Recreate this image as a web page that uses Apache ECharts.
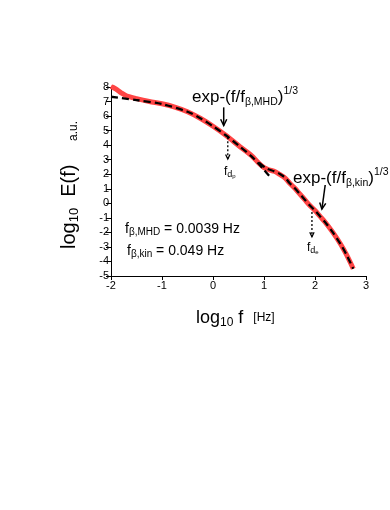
<!DOCTYPE html>
<html>
<head>
<meta charset="utf-8">
<script src="https://cdn.jsdelivr.net/npm/echarts@6/dist/echarts.min.js"></script>
<style>
html,body{margin:0;padding:0;background:#fff;}
#c{width:390px;height:510px;}
</style>
</head>
<body>
<div id="c"></div>
<script>
// ---- data (log10 f [Hz], log10 E(f)) ----
var dataX = [-2.0,-1.9,-1.8,-1.7,-1.5,-1.25,-1.0,-0.75,-0.5,-0.25,0.0,0.25,0.5,0.75,0.9,1.0,1.1,1.2,1.3,1.42,1.5,1.6,1.7,1.8,1.9,2.0,2.1,2.2,2.35,2.5,2.62,2.75];
var dataY = [8.05,7.85,7.6,7.4,7.2,7.0,6.85,6.62,6.3,5.85,5.3,4.68,3.98,3.3,2.75,2.45,2.3,2.2,2.0,1.72,1.4,1.05,0.65,0.25,-0.15,-0.5,-0.9,-1.3,-2.0,-2.8,-3.55,-4.5];
var mhdX = [-2.0,-1.5,-1.0,-0.5,-0.25,0.0,0.25,0.5,0.75,0.9,1.0,1.1];
var mhdY = [7.33,7.1,6.83,6.3,5.85,5.3,4.68,3.98,3.25,2.7,2.3,1.9];
var kinX = [0.9,1.05,1.2,1.32,1.42,1.5,1.6,1.7,1.8,1.9,2.0,2.1,2.2,2.35,2.5,2.62,2.75];
var kinY = [2.8,2.4,2.2,2.0,1.75,1.4,1.05,0.65,0.25,-0.15,-0.5,-0.9,-1.3,-2.0,-2.8,-3.55,-4.5];
var xTicks = [-2,-1,0,1,2,3];
var yTicks = [-5,-4,-3,-2,-1,0,1,2,3,4,5,6,7,8];

function pairs(xs, ys){ return xs.map(function(x,i){ return [x, ys[i]]; }); }

var FONT = '"Liberation Sans", Arial, Helvetica, sans-serif';
var chart = echarts.init(document.getElementById('c'), null, {renderer:'canvas'});

var option = {
  animation:false,
  backgroundColor:'#fff',
  grid:{left:111, right:24, top:87, bottom:234, containLabel:false},
  xAxis:{
    type:'value', min:xTicks[0], max:xTicks[xTicks.length-1], interval:1,
    axisLine:{show:true, onZero:false, lineStyle:{color:'#000', width:1}},
    axisTick:{show:true, length:4, lineStyle:{color:'#000'}},
    axisLabel:{color:'#000', fontSize:11, fontFamily:FONT, margin:4},
    splitLine:{show:false}
  },
  yAxis:{
    type:'value', min:yTicks[0], max:yTicks[yTicks.length-1], interval:1,
    axisLine:{show:true, onZero:false, lineStyle:{color:'#000', width:1}},
    axisTick:{show:true, length:5, lineStyle:{color:'#000'}},
    axisLabel:{color:'#000', fontSize:11, fontFamily:FONT, margin:2},
    splitLine:{show:false}
  },
  series:[
    {type:'line', data:pairs(dataX,dataY), showSymbol:false, smooth:0.3,
     lineStyle:{color:'#ff4545', width:5}, z:2},
    {type:'line', data:pairs(mhdX,mhdY), showSymbol:false, smooth:0.3,
     lineStyle:{color:'#000', width:2.3, type:[7,4]}, z:3},
    {type:'line', data:pairs(kinX,kinY), showSymbol:false, smooth:0.3,
     lineStyle:{color:'#000', width:2.3, type:[7,4]}, z:3}
  ]
};
chart.setOption(option);

// ---- annotations ----
var arrows = [
  {from:[0.21,6.6], to:[0.21,5.35], dotted:false},
  {from:[0.29,4.55], to:[0.29,3.05], dotted:true},
  {from:[2.2,1.26], to:[2.135,-0.4], dotted:false},
  {from:[1.94,-0.6], to:[1.94,-2.3], dotted:true}
];
var g = [];
arrows.forEach(function(a){
  var p0 = chart.convertToPixel({gridIndex:0}, a.from);
  var p1 = chart.convertToPixel({gridIndex:0}, a.to);
  var ang = Math.atan2(p1[1]-p0[1], p1[0]-p0[0]);
  var hl = a.dotted ? 5 : 7, hw = 0.45;
  var h1 = [p1[0]-hl*Math.cos(ang-hw), p1[1]-hl*Math.sin(ang-hw)];
  var h2 = [p1[0]-hl*Math.cos(ang+hw), p1[1]-hl*Math.sin(ang+hw)];
  g.push({type:'line', shape:{x1:p0[0],y1:p0[1],x2:p1[0],y2:p1[1]},
    style:{stroke:'#000', lineWidth:a.dotted?1.3:1.5, lineDash:a.dotted?[2,2]:null}, z:10});
  g.push({type:'polyline', shape:{points:[h1,p1,h2]},
    style:{stroke:'#000', lineWidth:a.dotted?1.3:1.5, fill:null}, z:10});
});

var rich = {
  m:{fontSize:17, fontFamily:FONT, color:'#000', lineHeight:22},
  s:{fontSize:10.5, fontFamily:FONT, color:'#000', lineHeight:10, verticalAlign:'bottom'},
  u:{fontSize:10.5, fontFamily:FONT, color:'#000', lineHeight:10, verticalAlign:'top'},
  t:{fontSize:14, fontFamily:FONT, color:'#000', lineHeight:16},
  ts:{fontSize:10, fontFamily:FONT, color:'#000', lineHeight:8, verticalAlign:'bottom'},
  sm:{fontSize:12, fontFamily:FONT, color:'#000', lineHeight:22},
  ax:{fontSize:18, fontFamily:FONT, color:'#000', lineHeight:22},
  axs:{fontSize:12, fontFamily:FONT, color:'#000', lineHeight:10, verticalAlign:'bottom'},
  ay:{fontSize:20, fontFamily:FONT, color:'#000', lineHeight:24},
  ays:{fontSize:13, fontFamily:FONT, color:'#000', lineHeight:11, verticalAlign:'bottom'},
  fd:{fontSize:12, fontFamily:FONT, color:'#000', lineHeight:14},
  fds:{fontSize:9, fontFamily:FONT, color:'#000', lineHeight:9, verticalAlign:'bottom'},
  fdss:{fontSize:6, fontFamily:FONT, color:'#000', lineHeight:4, verticalAlign:'bottom'}
};
function txt(x, y, text, extra){
  var o = {type:'text', x:x, y:y, z:20,
    style:{text:text, rich:rich, fill:'#000', verticalAlign:'middle', align:'left', font:'13px '+FONT}};
  if (extra) for (var k in extra) o[k] = extra[k];
  return o;
}
g.push(txt(192, 97, '{m|exp-(f/f}{s|β,MHD}{m|)}{u|1/3}'));
g.push(txt(293, 178, '{m|exp-(f/f}{s|β,kin}{m|)}{u|1/3}'));
g.push(txt(224, 172, '{fd|f}{fds|d}{fdss|p}'));
g.push(txt(307, 248, '{fd|f}{fds|d}{fdss|e}'));
g.push(txt(125, 229, '{t|f}{ts|β,MHD}{t| = 0.0039 Hz}'));
g.push(txt(127, 251, '{t|f}{ts|β,kin}{t| = 0.049 Hz}'));
g.push(txt(196, 318, '{ax|log}{axs|10}{ax| f}{sm|   [Hz]}'));
g.push(txt(69, 249, '{ay|log}{ays|10}{ay|  E(f)}', {rotation:Math.PI/2}));
g.push(txt(74, 141, '{sm|a.u.}', {rotation:Math.PI/2}));

chart.setOption({graphic:g});
</script>
</body>
</html>
